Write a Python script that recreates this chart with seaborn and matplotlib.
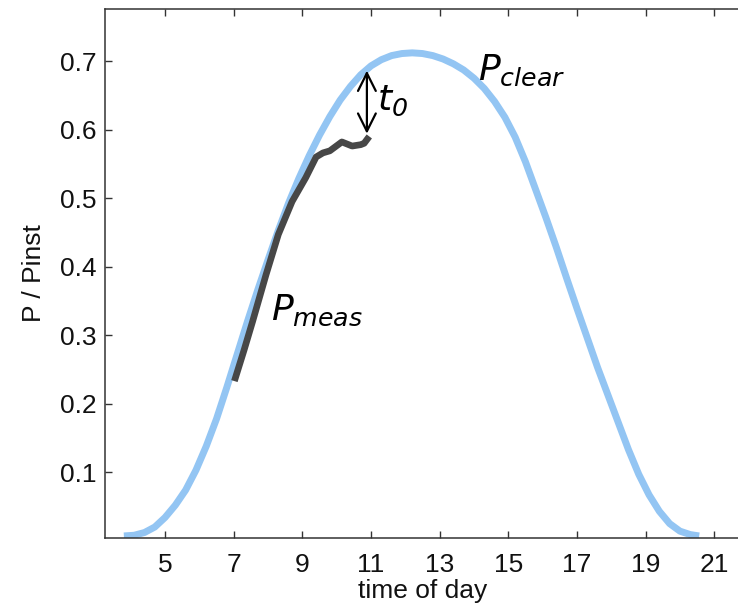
import matplotlib
matplotlib.use("Agg")
import matplotlib.pyplot as plt
import seaborn as sns
import pandas as pd

# ---- data ----
clear_x = [3.80, 4.10, 4.40, 4.70, 5.00, 5.30, 5.60, 5.90, 6.20, 6.50, 6.80, 7.10,
           7.40, 7.70, 8.00, 8.30, 8.60, 8.90, 9.20, 9.50, 9.80, 10.10, 10.40, 10.70,
           11.00, 11.30, 11.60, 11.90, 12.20, 12.50, 12.80, 13.10, 13.40, 13.70,
           14.00, 14.30, 14.60, 14.90, 15.20, 15.50, 15.80, 16.10, 16.40, 16.70,
           17.00, 17.30, 17.60, 17.90, 18.20, 18.50, 18.80, 19.10, 19.40, 19.70,
           20.00, 20.30, 20.56]
clear_y = [0.007, 0.008, 0.012, 0.020, 0.034, 0.052, 0.074, 0.103, 0.138, 0.178, 0.224, 0.272,
           0.320, 0.366, 0.410, 0.453, 0.493, 0.529, 0.562, 0.592, 0.619, 0.643, 0.663, 0.680,
           0.693, 0.702, 0.708, 0.711, 0.712, 0.711, 0.708, 0.703, 0.696, 0.687,
           0.675, 0.660, 0.641, 0.618, 0.589, 0.553, 0.512, 0.471, 0.428, 0.383,
           0.339, 0.296, 0.253, 0.213, 0.173, 0.133, 0.097, 0.067, 0.043, 0.025,
           0.014, 0.009, 0.007]

meas_x = [7.02, 7.30, 7.55, 7.94, 8.30, 8.70, 9.10, 9.40, 9.60, 9.80, 10.15, 10.45,
          10.70, 10.80, 10.95]
meas_y = [0.233, 0.278, 0.320, 0.388, 0.447, 0.495, 0.530, 0.560, 0.566, 0.569, 0.582, 0.576,
          0.578, 0.580, 0.590]

t0_x = 10.88
t0_low = 0.594
t0_high = 0.686

x_ticks = [5, 7, 9, 11, 13, 15, 17, 19, 21]
y_ticks = [0.1, 0.2, 0.3, 0.4, 0.5, 0.6, 0.7]

clear_df = pd.DataFrame({"x": clear_x, "y": clear_y})
meas_df = pd.DataFrame({"x": meas_x, "y": meas_y})

sns.set_style("ticks")
plt.rcParams["font.family"] = ["Liberation Sans", "DejaVu Sans"]
plt.rcParams["mathtext.fontset"] = "custom"
plt.rcParams["mathtext.it"] = "DejaVu Sans:italic"
plt.rcParams["mathtext.rm"] = "DejaVu Sans:italic"
plt.rcParams["mathtext.default"] = "it"

W, H = 738, 607
fig = plt.figure(figsize=(W / 100, H / 100), dpi=100)
ax = fig.add_axes([105 / W, (H - 538) / H, (740 - 105) / W, (538 - 9) / H])

sns.lineplot(data=clear_df, x="x", y="y", ax=ax, sort=False, color="#93c5f3",
             linewidth=5.0, solid_capstyle="butt", solid_joinstyle="round", estimator=None)
sns.lineplot(data=meas_df, x="x", y="y", ax=ax, sort=False, color="#474747",
             linewidth=4.8, solid_capstyle="butt", solid_joinstyle="round", estimator=None)

ax.annotate("", xy=(t0_x, t0_high), xytext=(t0_x, t0_low),
            arrowprops=dict(arrowstyle="<->", color="black", lw=1.6,
                            mutation_scale=32, shrinkA=0, shrinkB=0))

ax.text(14.13, 0.673, r"$P_{clear}$", fontsize=26, color="black", ha="left", va="baseline")
ax.text(11.16, 0.629, r"$t_{\mathit{0}}$", fontsize=26, color="black", ha="left", va="baseline")
ax.text(8.09, 0.322, r"$P_{meas}$", fontsize=26, color="black", ha="left", va="baseline")

ax.set_xlim(3.25, 21.75)
ax.set_ylim(0.004, 0.776)
ax.set_xticks(x_ticks)
ax.set_xticklabels([str(v) for v in x_ticks])
ax.set_yticks(y_ticks)
ax.set_yticklabels([f"{v:.1f}" for v in y_ticks])

ax.tick_params(axis="both", direction="in", length=5, width=1.0, color="#333333",
               labelsize=19, labelcolor="#111111", top=True, right=False)
ax.tick_params(axis="x", pad=11)
ax.tick_params(axis="y", pad=6)

for side in ["left", "bottom", "top"]:
    ax.spines[side].set_visible(True)
    ax.spines[side].set_color("#333333")
    ax.spines[side].set_linewidth(1.1)
ax.spines["right"].set_visible(False)

ax.set_xlabel("time of day", fontsize=19, color="#111111", labelpad=1)
ax.set_ylabel("P / Pinst", fontsize=19, color="#111111", labelpad=10)

fig.savefig("out.png", dpi=100)
